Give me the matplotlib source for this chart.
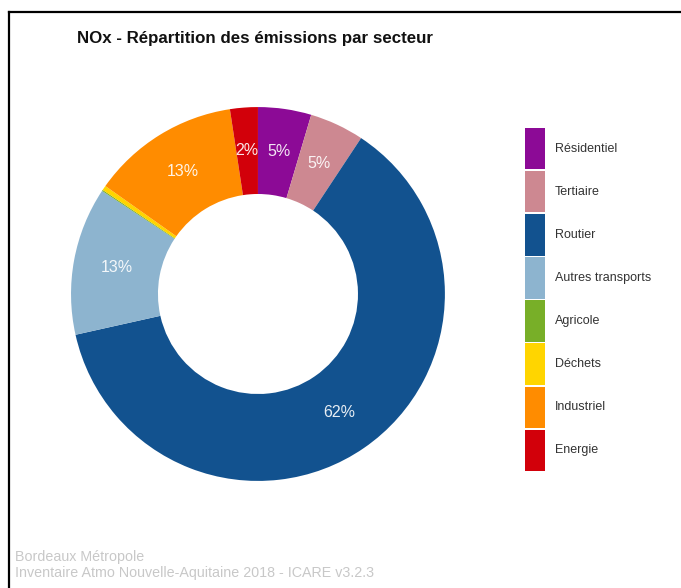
import matplotlib.pyplot as plt
from matplotlib.lines import Line2D
from matplotlib.patches import Rectangle

plt.rcParams['font.family'] = ['Liberation Sans', 'DejaVu Sans']

secteurs = ['Résidentiel', 'Tertiaire', 'Routier', 'Autres transports',
            'Agricole', 'Déchets', 'Industriel', 'Energie']
parts = [4.6, 4.7, 62.2, 12.8, 0.1, 0.4, 12.8, 2.4]
couleurs = ['#8c0a96', '#cd8891', '#12528f', '#8db4cf',
            '#78af28', '#ffd500', '#ff8c00', '#d2000a']


def etiquette(pct):
    # pas d'étiquette pour les secteurs inférieurs à 1 %
    return '%d%%' % round(pct) if pct >= 1 else ''


W, H = 681, 588
fig = plt.figure(figsize=(W / 100, H / 100), dpi=100)
fig.patch.set_facecolor('white')

ax = fig.add_axes([0.1043, 0.1820, 0.549, 0.636])
wedges, textes, pcts = ax.pie(parts, colors=couleurs, startangle=90, counterclock=False,
                              radius=1.0, autopct=etiquette, pctdistance=0.77,
                              wedgeprops=dict(width=0.465, linewidth=0),
                              textprops=dict(color='white', fontsize=11.5))
for t in pcts:
    t.set_alpha(0.9)
ax.set_xlim(-1, 1)
ax.set_ylim(-1, 1)
ax.axis('off')

fig.text(77 / W, 1 - 38 / H, 'NOx - Répartition des émissions par secteur',
         fontsize=12.2, fontweight='bold', color='#111111', va='center', ha='left')

# légende : une case de couleur par secteur, en colonne
leg = fig.add_axes([525 / W, 1 - 472 / H, 140 / W, 345 / H])
leg.set_xlim(0, 140)
leg.set_ylim(len(secteurs), 0)
leg.axis('off')
for i, (nom, c) in enumerate(zip(secteurs, couleurs)):
    leg.add_patch(Rectangle((0, i + 0.02), 20, 0.96, facecolor=c, linewidth=0))
    leg.text(30, i + 0.5, nom, fontsize=9, color='#333333', va='center', ha='left')

fig.text(15 / W, 1 - 557 / H, 'Bordeaux Métropole', fontsize=10.3,
         color='#c8c8c8', va='center', ha='left')
fig.text(15 / W, 1 - 573 / H, 'Inventaire Atmo Nouvelle-Aquitaine 2018 - ICARE v3.2.3',
         fontsize=10.3, color='#c8c8c8', va='center', ha='left')

# cadre : bord gauche et bord haut
fig.add_artist(Line2D([9 / W, 9 / W], [0, 1 - 12 / H], color='black', linewidth=1.6))
fig.add_artist(Line2D([9 / W, 1], [1 - 12 / H, 1 - 12 / H], color='black', linewidth=1.6))

fig.savefig('out.png', dpi=100)
